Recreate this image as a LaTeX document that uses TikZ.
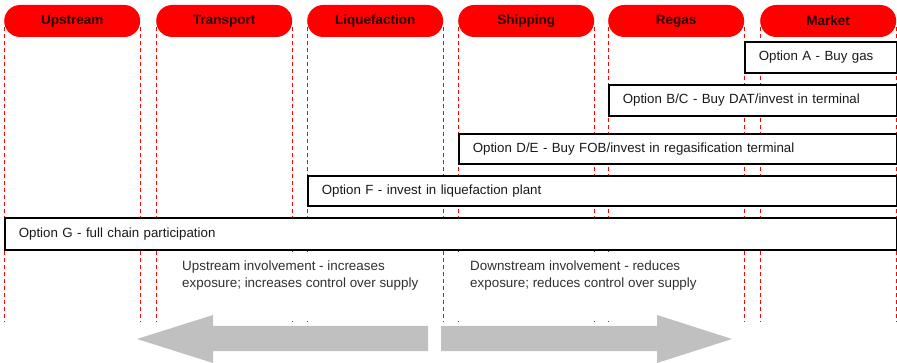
\documentclass[tikz,border=0pt]{standalone}
\usepackage{fontspec}
\setmainfont{Liberation Sans}
\begin{document}
\begin{tikzpicture}[x=1pt,y=-1pt]
\useasboundingbox (0,0) rectangle (897,363);
\definecolor{arrowgray}{HTML}{C0C0C0}
\definecolor{txt}{HTML}{1A1A1A}
\tikzset{
 pill/.style={fill=red, rounded corners=16pt, minimum height=32pt, minimum width=136pt, inner sep=0pt, anchor=west, font=\bfseries\fontsize{13.5}{15}\selectfont, text=black!85!red},
 opt/.style={draw=black, line width=1.6pt, fill=white, inner xsep=14pt, inner ysep=0pt, anchor=north west, align=left, font=\fontsize{13.3}{15}\selectfont, text=txt},
 vline/.style={red, dash pattern=on 4pt off 3pt, line width=0.8pt},
 notebg/.style={fill=white, draw=none, inner sep=0pt, anchor=north west},
 note/.style={anchor=north west, align=left, inner sep=0pt, font=\fontsize{13.4}{17}\selectfont, text=txt!90!white},
 bigarrow/.style={fill=arrowgray, draw=none},
}
% header pills
\node[pill] (p1) at (4,21) {Upstream};
\node[pill] (p2) at (156,21) {Transport};
\node[pill] (p3) at (307,21) {Liquefaction};
\node[pill] (p4) at (458,21) {Shipping};
\node[pill] (p5) at (608,21) {Regas};
\node[pill] (p6) at (760,21) {Market};
% dashed guide lines (behind boxes)
\foreach \p in {p1,p2,p3,p4,p5,p6}{
  \draw[vline] ([yshift=-6pt]\p.west) -- (\p.west |- 0,322);
  \draw[vline] ([yshift=-6pt]\p.east) -- (\p.east |- 0,322);
}
% option boxes
\node[opt, minimum width=152pt, minimum height=31pt, text width=124pt] (oA) at (744,41) {Option A - Buy gas};
\node[opt, minimum width=288pt, minimum height=31pt, text width=260pt] (oB) at (608,84) {Option B/C - Buy DAT/invest in terminal};
\node[opt, minimum width=438pt, minimum height=30pt, text width=410pt] (oD) at (458,133) {Option D/E - Buy FOB/invest in regasification terminal};
\node[opt, minimum width=589pt, minimum height=30pt, text width=561pt] (oF) at (307,175) {Option F - invest in liquefaction plant};
\node[opt, minimum width=892pt, minimum height=32pt, text width=864pt] (oG) at (4,217) {Option G - full chain participation};
% notes (white backing hides the guide lines)
\node[notebg, minimum width=268pt, minimum height=66pt] (n1bg) at (168,252) {};
\node[notebg, minimum width=268pt, minimum height=66pt] (n2bg) at (452,252) {};
\node[note] (n1) at (182,261) {Upstream involvement - increases\\exposure; increases control over supply};
\node[note] (n2) at (470,261) {Downstream involvement - reduces\\exposure; reduces control over supply};
% big arrows
\fill[bigarrow] (137,339) -- (213,315) -- (213,326) -- (428,326) -- (428,351) -- (213,351) -- (213,363) -- cycle;
\fill[bigarrow] (441,326) -- (657,326) -- (657,315) -- (732,339) -- (657,363) -- (657,351) -- (441,351) -- cycle;
\end{tikzpicture}
\end{document}
